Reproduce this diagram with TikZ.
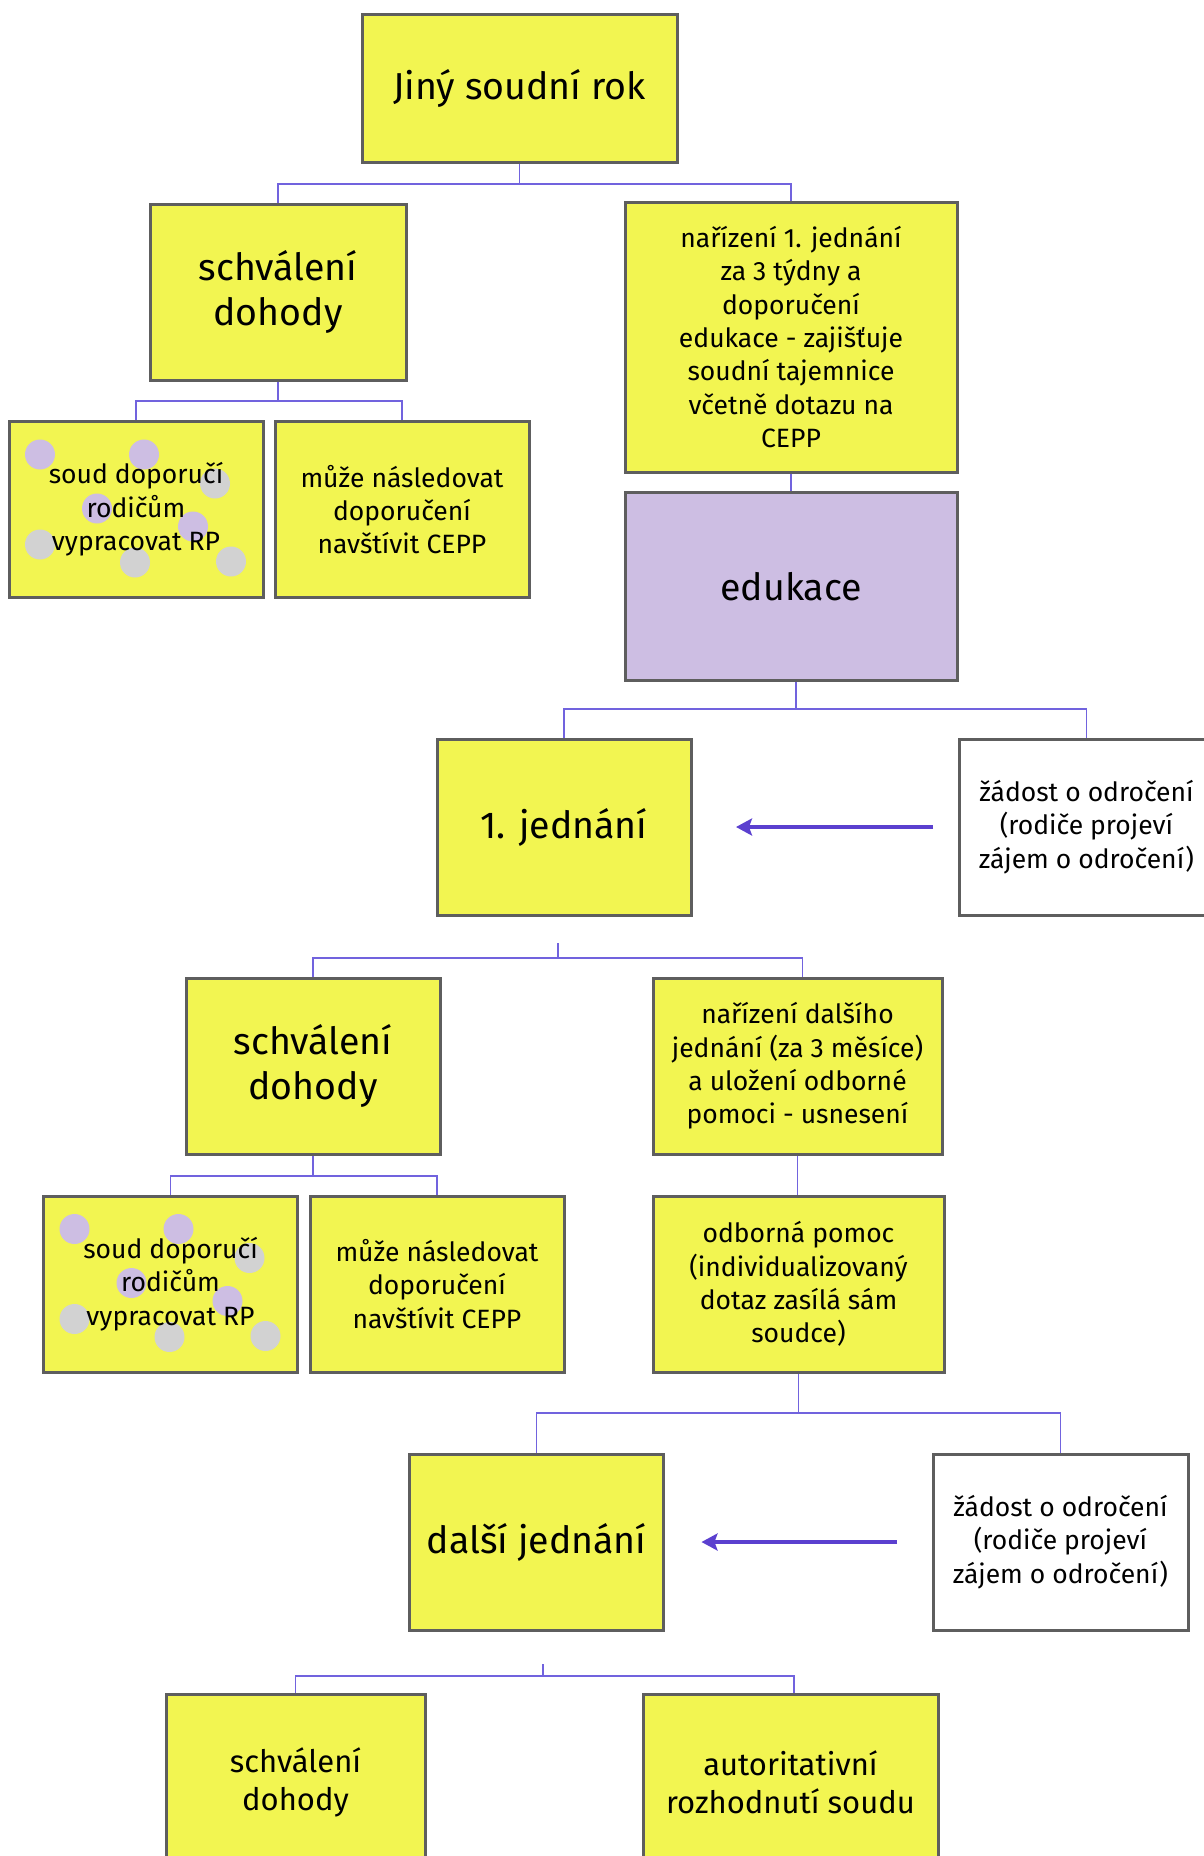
\documentclass[tikz,border=0pt]{standalone}
\usepackage{fontspec}
\setmainfont{Fira Sans}
\usetikzlibrary{arrows.meta}
\definecolor{boxyellow}{HTML}{F2F551}
\definecolor{boxlila}{HTML}{CDBEE3}
\definecolor{boxline}{HTML}{5E5E5E}
\definecolor{treeline}{HTML}{7163DE}
\definecolor{arrowlila}{HTML}{5B40CF}
\definecolor{dotgray}{HTML}{D2D2D2}
\begin{document}
\begin{tikzpicture}[x=1pt,y=-1pt,
	krok/.style={draw=boxline,line width=3pt,fill=boxyellow,align=center,inner sep=0pt,
		minimum width=254pt,minimum height=176pt},
	velky/.style={font=\fontsize{37.5}{45}\selectfont},
	stredni/.style={font=\fontsize{31}{38}\selectfont},
	maly/.style={font=\fontsize{26.5}{33.4}\selectfont},
	vetev/.style={draw=treeline,line width=1.8pt},
	odklad/.style={-{Stealth[length=16pt,width=17pt,inset=3pt]},draw=arrowlila,line width=3.5pt},
	tecky/.style={path picture={
		\foreach \dx/\dy/\barva in {31/33/boxlila,135/33/boxlila,206/62/dotgray,88/87/boxlila,
			184/105/boxlila,31/123/dotgray,126/141/dotgray,222/140/dotgray}
			\fill[\barva] ([shift={(\dx,\dy)}]path picture bounding box.north west) circle (15pt);
	}}]
	\useasboundingbox (0,0) rectangle (1204,1856);
	\clip (0,0) rectangle (1204,1856);
	% prvni cast
	\node[krok,velky,minimum width=315pt,minimum height=148pt] (rok) at (519.5,88) {Jiný soudní rok};
	\node[krok,velky,minimum width=256pt] (schvA) at (278,292) {schválení\\dohody};
	\node[krok,maly,minimum width=332pt,minimum height=270pt] (narA) at (791,337)
		{nařízení 1. jednání\\za 3 týdny a\\doporučení\\edukace - zajišťuje\\soudní tajemnice\\včetně dotazu na\\CEPP};
	\node[krok,maly,tecky] (soudA) at (136,509.5) {soud doporučí\\rodičům\\vypracovat RP};
	\node[krok,maly] (muzeA) at (402,509.5) {může následovat\\doporučení\\navštívit CEPP};
	\node[krok,velky,fill=boxlila,minimum width=332pt,minimum height=188pt] (edu) at (791,586.5) {edukace};
	\node[krok,velky] (jedA) at (564,827) {1. jednání};
	\node[krok,maly,fill=white,minimum width=255pt] (zadA) at (1086.5,827)
		{žádost o odročení\\(rodiče projeví\\zájem o odročení)};
	% druha cast
	\node[krok,velky] (schvB) at (313,1066) {schválení\\dohody};
	\node[krok,maly,minimum width=289pt] (narB) at (797.5,1066)
		{nařízení dalšího\\jednání (za 3 měsíce)\\a uložení odborné\\pomoci - usnesení};
	\node[krok,maly,tecky] (soudB) at (170.5,1284) {soud doporučí\\rodičům\\vypracovat RP};
	\node[krok,maly] (muzeB) at (437,1284) {může následovat\\doporučení\\navštívit CEPP};
	\node[krok,maly,minimum width=291pt] (odb) at (798.5,1284)
		{odborná pomoc\\(individualizovaný\\dotaz zasílá sám\\soudce)};
	\node[krok,velky] (dalsi) at (536.5,1542) {další jednání};
	\node[krok,maly,fill=white,minimum width=255pt] (zadB) at (1060.5,1542)
		{žádost o odročení\\(rodiče projeví\\zájem o odročení)};
	\node[krok,stredni,minimum width=259pt] (schvC) at (295.5,1782) {schválení\\dohody};
	\node[krok,stredni,minimum width=295pt] (auto) at (790.5,1782) {autoritativní\\rozhodnutí soudu};
	% vetve
	\draw[vetev] (rok.south) -- (rok.south |- 0,184);
	\draw[vetev] (schvA.north) |- (narA.north |- 0,184) -- (narA.north);
	\draw[vetev] (schvA.south) -- (schvA.south |- 0,401);
	\draw[vetev] (soudA.north) |- (muzeA.north |- 0,401) -- (muzeA.north);
	\draw[vetev] (narA.south) -- (edu.north);
	\draw[vetev] ([xshift=5pt]edu.south) -- ([xshift=5pt]edu.south |- 0,709);
	\draw[vetev] (jedA.north) |- (zadA.north |- 0,709) -- (zadA.north);
	\draw[vetev] ([xshift=-6pt]jedA.south |- 0,943) -- ([xshift=-6pt]jedA.south |- 0,958);
	\draw[vetev] (schvB.north) |- ([xshift=5pt]narB.north |- 0,958) -- ([xshift=5pt]narB.north);
	\draw[vetev] (schvB.south) -- (schvB.south |- 0,1176);
	\draw[vetev] (soudB.north) |- (muzeB.north |- 0,1176) -- (muzeB.north);
	\draw[vetev] (narB.south) -- (narB.south |- odb.north);
	\draw[vetev] (odb.south) -- (odb.south |- 0,1413);
	\draw[vetev] (dalsi.north) |- (zadB.north |- 0,1413) -- (zadB.north);
	\draw[vetev] ([xshift=6.5pt]dalsi.south |- 0,1664) -- ([xshift=6.5pt]dalsi.south |- 0,1676);
	\draw[vetev] (schvC.north) |- ([xshift=3.5pt]auto.north |- 0,1676) -- ([xshift=3.5pt]auto.north);
	% odklad
	\draw[odklad,shorten <=24.5pt,shorten >=43.5pt] (zadA.west) -- (jedA.east);
	\draw[odklad,shorten <=34.5pt,shorten >=36.5pt] (zadB.west) -- (dalsi.east);
\end{tikzpicture}
\end{document}
